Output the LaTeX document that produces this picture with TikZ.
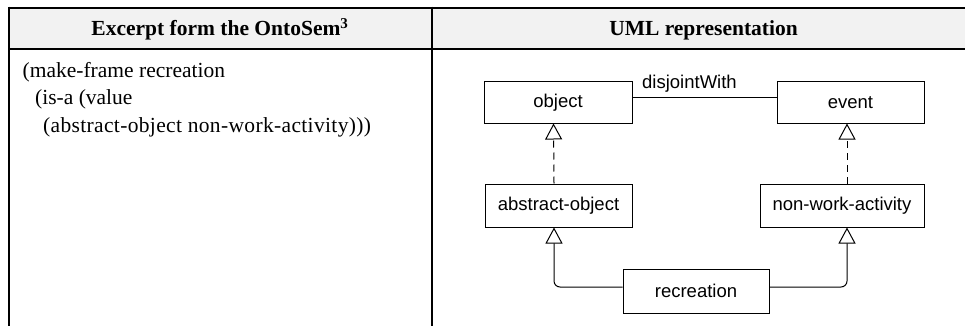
\documentclass[tikz,border=0pt]{standalone}
\usepackage{fontspec}
\setmainfont{Liberation Serif}
\newfontfamily\umlfont{Liberation Sans}
\usetikzlibrary{arrows.meta}
\definecolor{hdrgray}{HTML}{F2F2F2}
\tikzset{
  tbl/.style={line width=2pt},
  cls/.style={draw, line width=1pt, inner sep=0pt, font=\umlfont\fontsize{18.5}{20}\selectfont},
  umllbl/.style={inner sep=0pt, font=\umlfont\fontsize{18.5}{20}\selectfont},
  hdr/.style={inner sep=0pt, anchor=base, font=\bfseries\fontsize{21.5}{26}\selectfont},
  body/.style={inner sep=0pt, anchor=base west, font=\fontsize{21.5}{26}\selectfont},
  gen/.style={line width=1pt, -{Triangle[open, length=16pt, width=17pt, line width=1pt]}},
  realz/.style={gen, dash pattern=on 7pt off 5pt},
}
\begin{document}
\begin{tikzpicture}[x=1pt, y=-1pt]
\useasboundingbox (0,0) rectangle (965,326);
\clip (0,0) rectangle (965,326);
% table
\fill[hdrgray] (9,7.7) rectangle (980,49.3);
\draw[tbl] (8,7.7) -- (980,7.7);
\draw[tbl] (8,49.3) -- (980,49.3);
\draw[tbl] (9,6.7) -- (9,330);
\draw[tbl] (432.3,6.7) -- (432.3,330);
% header
\node[hdr] (h1) at (220,36) {Excerpt form the OntoSem\textsuperscript{3}};
\node[hdr] (h2) at (703.5,36) {UML representation};
% body text
\node[body] (t1) at (22.5,78) {(make-frame recreation};
\node[body] (t2) at (35,105) {(is-a (value};
\node[body] (t3) at (43,132) {\addfontfeatures{LetterSpace=1.6}(abstract-object non-work-activity)))};
% UML
\node[cls, minimum width=148pt, minimum height=41pt] (obj) at (558,102.5) {object};
\node[cls, minimum width=147pt, minimum height=41pt] (ev) at (850.5,102.5) {event};
\node[cls, minimum width=147pt, minimum height=43pt] (abs) at (558.5,205.5) {abstract-object};
\node[cls, minimum width=164pt, minimum height=43pt] (nwa) at (842,205.5) {non-work-activity};
\node[cls, minimum width=146pt, minimum height=44pt] (rec) at (696,291) {recreation};
\draw[line width=1pt] ([yshift=4.5pt]obj.east) -- ([yshift=4.5pt]ev.west);
\node[umllbl, anchor=base west] (dj) at (642,89) {disjointWith};
\draw[realz] ([xshift=-4.5pt]abs.north) -- ([xshift=-4.5pt]obj.south);
\draw[realz] ([xshift=5pt]nwa.north) -- ([xshift=5pt]nwa.north |- ev.south);
\draw[gen, rounded corners=6pt] ([yshift=4pt]rec.west) -| ([xshift=-4.5pt]abs.south);
\draw[gen, rounded corners=6pt] ([yshift=4pt]rec.east) -| ([xshift=5pt]nwa.south);
\end{tikzpicture}
\end{document}
